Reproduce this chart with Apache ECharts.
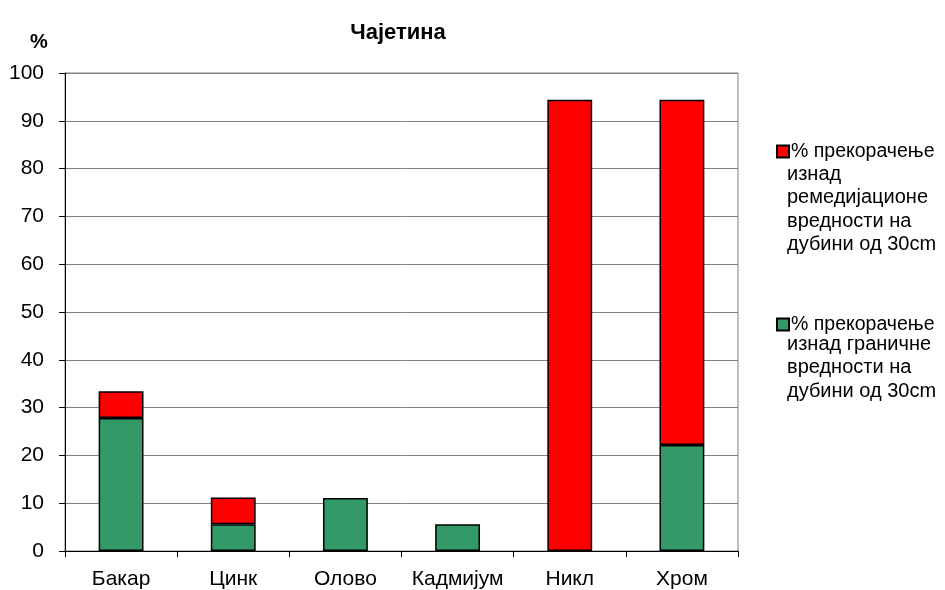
<!DOCTYPE html>
<html>
<head>
<meta charset="utf-8">
<script src="https://cdn.jsdelivr.net/npm/echarts@6/dist/echarts.min.js"></script>
<style>html,body{margin:0;padding:0;background:#fff}#c{width:945px;height:590px}</style>
</head>
<body>
<div id="c"></div>
<script>
var categories = ['Бакар', 'Цинк', 'Олово', 'Кадмијум', 'Никл', 'Хром'];
var greenValues = [27.8, 5.6, 11.1, 5.6, 0, 22.2];
var redValues = [5.6, 5.6, 0, 0, 94.4, 72.2];
var yTicks = [0, 10, 20, 30, 40, 50, 60, 70, 80, 90, 100];
var redName = '% прекорачење\nизнад\nремедијационе\nвредности на\nдубини од 30cm';
var greenName = '% прекорачење\nизнад граничне\nвредности на\nдубини од 30cm';

var FONT = '"Liberation Sans", Arial, sans-serif';
function nz(a) { return a.map(function (v) { return v === 0 ? null : v; }); }

var chart = echarts.init(document.getElementById('c'), null, { renderer: 'canvas' });

function extraLines(name, x, y) {
  var lines = name.split('\n').slice(1);
  return lines.map(function (t, i) {
    return { type: 'text', x: x, y: y + i * 23.5,
      style: { text: t, font: '20px ' + FONT, fill: '#000', verticalAlign: 'middle', align: 'left' } };
  });
}

var graphics = [
  { type: 'text', x: 30, y: 42, style: { text: '%', font: 'bold 20px ' + FONT, fill: '#000', verticalAlign: 'middle' } }
].concat(extraLines(redName, 787, 174)).concat(extraLines(greenName, 787, 344));

chart.setOption({
  animation: false,
  backgroundColor: '#fff',
  title: {
    text: 'Чајетина', left: 393, top: 17, textAlign: 'center',
    textStyle: { fontFamily: FONT, fontWeight: 'bold', fontSize: 22, color: '#000' }
  },
  grid: { left: 65, right: 207, top: 73, bottom: 39, show: true, borderColor: '#808080', borderWidth: 1, containLabel: false },
  legend: {
    orient: 'vertical', left: 771, top: 135,
    itemWidth: 12, itemHeight: 12, itemGap: 150,
    data: [redName, greenName],
    formatter: function (n) { return n.split('\n')[0]; },
    textStyle: { fontFamily: FONT, fontSize: 19.5, lineHeight: 20, color: '#000', padding: [3, 0, 0, -3] },
    icon: 'rect'
  },
  xAxis: {
    type: 'category', data: categories,
    axisLine: { lineStyle: { color: '#000', width: 1 } },
    axisTick: { show: true, length: 6, inside: false, alignWithLabel: false, lineStyle: { color: '#000' } },
    axisLabel: { fontFamily: FONT, fontSize: 21, color: '#000', margin: 18, interval: 0 },
    splitLine: { show: false }
  },
  yAxis: {
    type: 'value', min: yTicks[0], max: yTicks[yTicks.length - 1], interval: 10,
    axisLine: { show: true, lineStyle: { color: '#000', width: 1 } },
    axisTick: { show: true, length: 6, lineStyle: { color: '#000' } },
    axisLabel: { fontFamily: FONT, fontSize: 21, color: '#000', margin: 21 },
    splitLine: { show: true, lineStyle: { color: '#808080', width: 1 } }
  },
  series: [
    {
      name: greenName, type: 'bar', stack: 's', barWidth: '40%',
      data: nz(greenValues),
      itemStyle: { color: '#339966', borderColor: '#000', borderWidth: 1.5 }
    },
    {
      name: redName, type: 'bar', stack: 's', barWidth: '40%',
      data: nz(redValues),
      itemStyle: { color: '#FF0000', borderColor: '#000', borderWidth: 1.5 }
    }
  ],
  graphic: graphics
});
</script>
</body>
</html>
